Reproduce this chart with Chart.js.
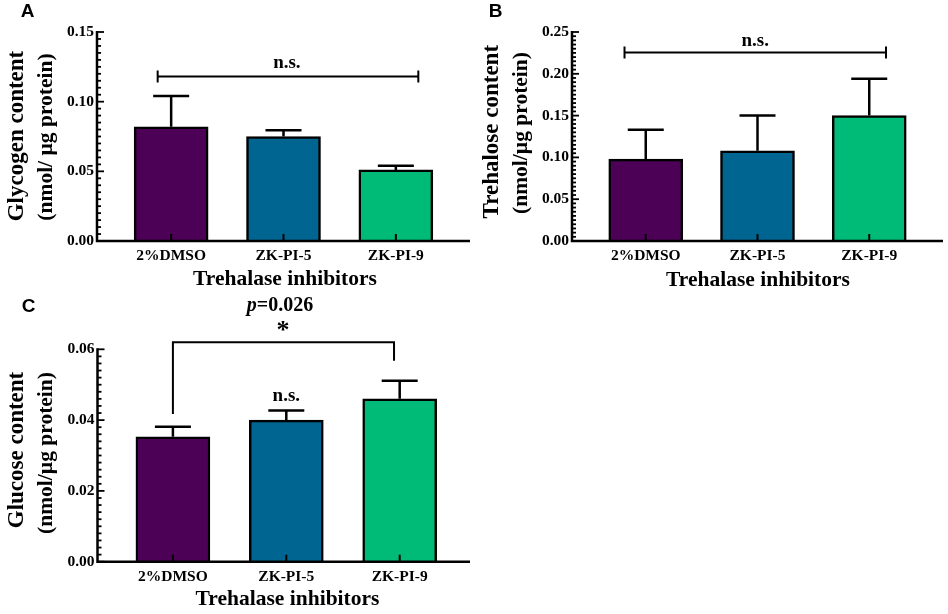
<!DOCTYPE html>
<html>
<head>
<meta charset="utf-8">
<script src="https://cdn.jsdelivr.net/npm/chart.js@4.4.0/dist/chart.umd.min.js"></script>
<style>
  body { margin: 0; background: #fff; width: 948px; height: 614px; position: relative; overflow: hidden; }
  canvas { position: absolute; }
</style>
</head>
<body>
<canvas id="chartA" style="left:0;top:0;width:474px;height:295px" width="474" height="295"></canvas>
<canvas id="chartB" style="left:474px;top:0;width:474px;height:295px" width="474" height="295"></canvas>
<canvas id="chartC" style="left:0;top:295px;width:474px;height:319px" width="474" height="319"></canvas>
<script>
// groups on the x axis
const groups = ["2%DMSO", "ZK-PI-5", "ZK-PI-9"];

// A: glycogen (mean, SEM)
const glycogen = [0.082, 0.075, 0.051];
const glycogenErr = [0.022, 0.0045, 0.003];
const ticksA = [0, 0.05, 0.10, 0.15];

// B: trehalose
const trehalose = [0.098, 0.108, 0.150];
const trehaloseErr = [0.035, 0.042, 0.044];
const ticksB = [0, 0.05, 0.10, 0.15, 0.20, 0.25];

// C: glucose
const glucose = [0.0353, 0.0400, 0.0460];
const glucoseErr = [0.0028, 0.0027, 0.0051];
const ticksC = [0, 0.02, 0.04, 0.06];

const barColors = ["#4c0056", "#006590", "#00bb77"];
const serif = "'Liberation Serif', 'Times New Roman', serif";

function txt(ctx, s, x, y, font, rot) {
  ctx.save();
  ctx.translate(x, y);
  if (rot) ctx.rotate(rot);
  ctx.font = font;
  ctx.textAlign = "center";
  ctx.textBaseline = "middle";
  ctx.fillStyle = "#000";
  ctx.fillText(s, 0, 0);
  ctx.restore();
}

const panelDeco = {
  id: "panelDeco",
  afterDatasetsDraw(chart, args, o) {
    const ctx = chart.ctx, xs = chart.scales.x, ys = chart.scales.y;
    const a = chart.chartArea;
    ctx.save();
    ctx.strokeStyle = "#000";

    // error bars (upper only)
    ctx.lineWidth = 2.5;
    o.err.forEach((e, i) => {
      const px = xs.getPixelForValue(i);
      const y0 = ys.getPixelForValue(o.mean[i]);
      const y1 = ys.getPixelForValue(o.mean[i] + e);
      ctx.beginPath();
      ctx.moveTo(px, y0); ctx.lineTo(px, y1);
      ctx.moveTo(px - 18, y1); ctx.lineTo(px + 18, y1);
      ctx.stroke();
    });

    // axes
    ctx.lineWidth = 2.5;
    ctx.beginPath();
    ctx.moveTo(a.left, a.top - 1); ctx.lineTo(a.left, a.bottom);
    ctx.lineTo(a.right, a.bottom);
    ctx.stroke();
    // y ticks, pointing inward
    ctx.lineWidth = 1.8;
    const n = Math.round(ys.max / o.minor);
    for (let k = 0; k <= n; k++) {
      const v = k * o.minor;
      const py = ys.getPixelForValue(v);
      const major = o.ticks.some(t => Math.abs(t - v) < 1e-9);
      ctx.beginPath();
      ctx.moveTo(a.left, py); ctx.lineTo(a.left + (major ? 7 : 4), py);
      ctx.stroke();
    }
    // x ticks, pointing inward
    ctx.lineWidth = 2;
    groups.forEach((g, i) => {
      const px = xs.getPixelForValue(i);
      ctx.beginPath();
      ctx.moveTo(px, a.bottom); ctx.lineTo(px, a.bottom - 7);
      ctx.stroke();
    });

    // significance brackets
    ctx.lineWidth = 2;
    o.brackets.forEach(b => {
      const x0 = xs.getPixelForValue(b.from), x1 = xs.getPixelForValue(b.to);
      const py = ys.getPixelForValue(b.y);
      ctx.beginPath();
      if (b.legs) {
        ctx.moveTo(x0, ys.getPixelForValue(b.legs[0]));
        ctx.lineTo(x0, py); ctx.lineTo(x1, py);
        ctx.lineTo(x1, ys.getPixelForValue(b.legs[1]));
      } else {
        ctx.moveTo(x0, py); ctx.lineTo(x1, py);
        ctx.moveTo(x0, py - 6); ctx.lineTo(x0, py + 6);
        ctx.moveTo(x1, py - 6); ctx.lineTo(x1, py + 6);
      }
      ctx.stroke();
    });
    o.notes.forEach(t => {
      txt(ctx, t.text, xs.getPixelForValue(t.x), ys.getPixelForValue(t.y), t.font);
    });

    // titles and panel letter
    txt(ctx, o.yTitle[0], o.yTitlePos[0][0], o.yTitlePos[0][1], "bold 23px " + serif, -Math.PI / 2);
    txt(ctx, o.yTitle[1], o.yTitlePos[1][0], o.yTitlePos[1][1], "bold 21.5px " + serif, -Math.PI / 2);
    txt(ctx, "Trehalase inhibitors", o.xTitlePos[0], o.xTitlePos[1], "bold 21.5px " + serif);
    txt(ctx, o.letter, o.letterPos[0], o.letterPos[1], "bold 19px 'Liberation Sans', Arial, sans-serif");
    ctx.restore();
  }
};

function drawPanel(id, cfg) {
  const ctx = document.getElementById(id);
  const h = ctx.height;
  new Chart(ctx, {
    type: "bar",
    data: {
      datasets: [{
        data: cfg.mean.map((v, i) => ({ x: i, y: v })),
        backgroundColor: barColors,
        borderColor: "#000",
        borderWidth: 2.5,
        borderSkipped: "bottom",
        barThickness: 74,
      }],
    },
    options: {
      responsive: false,
      animation: false,
      events: [],
      layout: { padding: { left: 0, right: 474 - cfg.area.right, top: cfg.area.top, bottom: 0 } },
      plugins: {
        legend: { display: false },
        tooltip: { enabled: false },
        panelDeco: cfg,
      },
      scales: {
        x: {
          type: "linear",
          offset: false,
          min: cfg.xRange[0],
          max: cfg.xRange[1],
          grid: { display: false, drawTicks: false },
          border: { display: false },
          afterBuildTicks: s => { s.ticks = groups.map((g, i) => ({ value: i })); },
          afterFit: s => { s.height = h - cfg.area.bottom; },
          ticks: {
            autoSkip: false,
            maxRotation: 0,
            padding: 6,
            color: "#000",
            font: { family: serif, size: 15.5, weight: "bold" },
            callback: v => groups[v],
          },
        },
        y: {
          min: 0,
          max: cfg.ticks[cfg.ticks.length - 1],
          grid: { display: false, drawTicks: false },
          border: { display: false },
          afterBuildTicks: s => { s.ticks = cfg.ticks.map(v => ({ value: v })); },
          afterFit: s => { s.width = cfg.area.left; },
          ticks: {
            padding: 3,
            color: "#000",
            font: { family: serif, size: 15.5, weight: "bold" },
            callback: v => v.toFixed(2),
          },
        },
      },
    },
    plugins: [panelDeco],
  });
}

drawPanel("chartA", {
  mean: glycogen, err: glycogenErr, ticks: ticksA, minor: 0.005,
  area: { left: 97, right: 470, top: 32, bottom: 241 },
  xRange: [-0.66, 2.66],
  brackets: [{ from: -0.12, to: 2.2, y: 0.118 }],
  notes: [{ text: "n.s.", x: 1.03, y: 0.128, font: "bold 19px " + serif }],
  yTitle: ["Glycogen content", "(nmol/ µg protein)"],
  yTitlePos: [[17.5, 136], [46, 137]],
  xTitlePos: [285, 279],
  letter: "A", letterPos: [27.5, 11.5],
});

drawPanel("chartB", {
  mean: trehalose, err: trehaloseErr, ticks: ticksB, minor: 0.005,
  area: { left: 98, right: 469, top: 32, bottom: 241 },
  xRange: [-0.66, 2.66],
  brackets: [{ from: -0.19, to: 2.15, y: 0.2256 }],
  notes: [{ text: "n.s.", x: 0.98, y: 0.2387, font: "bold 19px " + serif }],
  yTitle: ["Trehalose content", "(nmol/µg protein)"],
  yTitlePos: [[17.7, 131.7], [47.7, 133]],
  xTitlePos: [284, 280],
  letter: "B", letterPos: [21.5, 11.5],
});

drawPanel("chartC", {
  mean: glucose, err: glucoseErr, ticks: ticksC, minor: 0.002,
  area: { left: 97.5, right: 470, top: 54.3, bottom: 266.7 },
  xRange: [-0.665, 2.62],
  brackets: [{ from: 0, to: 1.95, y: 0.062, legs: [0.0417, 0.0568] }],
  notes: [
    { text: "n.s.", x: 1.0, y: 0.0468, font: "bold 19px " + serif },
    { text: "*", x: 0.97, y: 0.0650, font: "bold 26px " + serif },
  ],
  yTitle: ["Glucose content", "(nmol/µg protein)"],
  yTitlePos: [[17.5, 155], [46.7, 158]],
  xTitlePos: [287.5, 304],
  letter: "C", letterPos: [28.5, 11.5],
});

// p value above panel C, italic p
(function () {
  const c = document.getElementById("chartC").getContext("2d");
  c.save();
  c.fillStyle = "#000";
  c.textBaseline = "middle";
  const rest = "=0.026";
  c.font = "italic bold 20px " + serif;
  const wp = c.measureText("p").width;
  c.font = "bold 20px " + serif;
  const wr = c.measureText(rest).width;
  const x0 = 280 - (wp + wr) / 2;
  c.font = "italic bold 20px " + serif;
  c.fillText("p", x0, 11);
  c.font = "bold 20px " + serif;
  c.fillText(rest, x0 + wp, 11);
  c.restore();
})();
</script>
</body>
</html>
